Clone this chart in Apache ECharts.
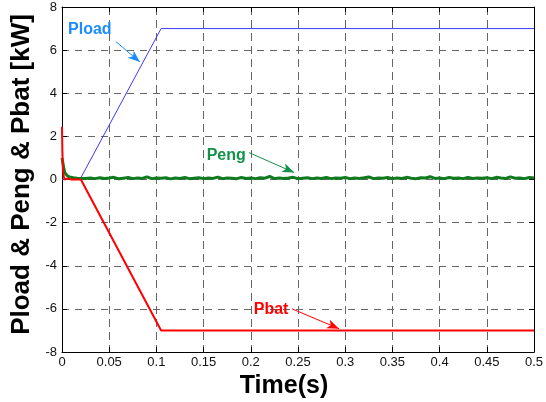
<!DOCTYPE html>
<html>
<head>
<meta charset="utf-8">
<script src="https://cdn.jsdelivr.net/npm/echarts@6/dist/echarts.min.js"></script>
<style>
  html, body { margin: 0; padding: 0; background: #fff; }
  #chart { width: 546px; height: 402px; }
</style>
</head>
<body>
<div id="chart"></div>
<script>
// Load power: zero until the step, linear ramp, then constant [kW]
const loadTime = [0, 0.019, 0.105, 0.5];
const loadPower = [0, 0, 7, 7];

// Battery power: start-up spike, ramp down to -7 kW, then constant
const batTime = [0, 0.0004, 0.001, 0.002, 0.003, 0.006, 0.01, 0.02, 0.105, 0.5];
const batPower = [2.45, 1.3, 0.45, 0.1, 0.0, 0.05, 0.0, 0.0, -7, -7];

// Engine power: start-up transient, then a noisy level slightly above zero
const engStartTime = [0, 0.001, 0.002, 0.003, 0.005, 0.008, 0.012, 0.016, 0.02];
const engStartPower = [1.0, 0.75, 0.5, 0.32, 0.2, 0.12, 0.08, 0.06, 0.05];
const engStep = 0.005;            // sampling step of the steady part
const engSteadyStart = 0.025;
const engSteadyPower = [
  0.05,0.07,0.04,0.08,0.05,0.07,0.10,0.03,0.06,0.09,
  0.04,0.07,0.05,0.12,0.04,0.07,0.06,0.08,0.03,0.07,
  0.05,0.09,0.04,0.06,0.08,0.04,0.07,0.05,0.11,0.04,
  0.07,0.06,0.04,0.09,0.05,0.07,0.04,0.08,0.06,0.14,
  0.04,0.07,0.05,0.07,0.10,0.04,0.06,0.08,0.04,0.07,
  0.05,0.10,0.04,0.07,0.06,0.09,0.04,0.07,0.05,0.08,
  0.12,0.04,0.07,0.06,0.09,0.04,0.07,0.05,0.10,0.06,
  0.04,0.08,0.07,0.13,0.05,0.07,0.04,0.09,0.06,0.07,
  0.04,0.10,0.05,0.07,0.06,0.08,0.04,0.10,0.07,0.05,
  0.12,0.06,0.07,0.04,0.09,0.07
];

// Annotation text positions and arrow ends, in data units [time, kW]
const labelPload = { text: 'Pload', at: [0.0295, 6.95], from: [0.057, 6.4], to: [0.0825, 5.45] };
const labelPeng  = { text: 'Peng',  at: [0.174, 1.1],  from: [0.198, 1.25], to: [0.246, 0.32] };
const labelPbat  = { text: 'Pbat',  at: [0.2215, -6.05], from: [0.2437, -6.0], to: [0.2935, -6.92] };

const FONT = "'Liberation Sans', Arial, Helvetica, sans-serif";

function pairs(ts, vs) { return ts.map((t, i) => [t, vs[i]]); }

const engData = pairs(engStartTime, engStartPower).concat(
  engSteadyPower.map((v, i) => [+(engSteadyStart + i * engStep).toFixed(4), v])
);

function annotate(lbl, textColor, arrowColor) {
  return {
    markLine: {
      silent: true,
      animation: false,
      symbol: ['none', 'arrow'],
      symbolSize: [7, 12],
      label: { show: false },
      lineStyle: { color: arrowColor, width: 1, type: 'solid' },
      data: [[{ coord: lbl.from }, { coord: lbl.to }]]
    },
    markPoint: {
      silent: true,
      animation: false,
      symbol: 'rect',
      symbolSize: [1, 1],
      itemStyle: { color: 'rgba(0,0,0,0)' },
      label: {
        show: true, position: 'inside', formatter: lbl.text,
        color: textColor, fontFamily: FONT, fontWeight: 'bold', fontSize: 16
      },
      data: [{ coord: lbl.at }]
    }
  };
}

const tickFmt = v => String(+v.toFixed(2));
const gridLine = (dash) => ({ show: true, lineStyle: { color: '#666', width: 1, type: dash } });
const frameLine = { show: true, onZero: false, lineStyle: { color: '#000', width: 1 } };
const inTick = { show: true, inside: true, length: 5, lineStyle: { color: '#000' } };

const chart = echarts.init(document.getElementById('chart'), null, { renderer: 'canvas' });
chart.setOption({
  animation: false,
  backgroundColor: '#fff',
  grid: { left: 62, right: 12, top: 7, bottom: 50, containLabel: false, outerBoundsMode: 'none' },
  xAxis: [{
    type: 'value', min: 0, max: 0.5, interval: 0.05,
    name: 'Time(s)', nameLocation: 'middle', nameGap: 19,
    nameTextStyle: { fontFamily: FONT, fontWeight: 'bold', fontSize: 25, color: '#000', padding: [0, 28, 0, 0] },
    axisLine: frameLine,
    axisTick: inTick,
    axisLabel: { fontFamily: FONT, fontSize: 13, color: '#111', margin: 4, formatter: tickFmt },
    splitLine: gridLine([8, 5])
  }, {
    type: 'value', min: 0, max: 0.5, interval: 0.05, position: 'top',
    axisLine: frameLine, axisTick: inTick,
    axisLabel: { show: false }, splitLine: { show: false }
  }],
  yAxis: [{
    type: 'value', min: -8, max: 8, interval: 2,
    name: 'Pload & Peng & Pbat [kW]', nameLocation: 'middle', nameGap: 25,
    nameTextStyle: { fontFamily: FONT, fontWeight: 'bold', fontSize: 26, color: '#000', padding: [0, 0, 0, 10] },
    axisLine: frameLine,
    axisTick: inTick,
    axisLabel: { fontFamily: FONT, fontSize: 13, color: '#111', margin: 5 },
    splitLine: gridLine([7, 6])
  }, {
    type: 'value', min: -8, max: 8, interval: 2, position: 'right',
    axisLine: frameLine, axisTick: inTick,
    axisLabel: { show: false }, splitLine: { show: false }
  }],
  series: [
    Object.assign({
      name: 'Pload', type: 'line', showSymbol: false, symbol: 'none',
      xAxisIndex: 0, yAxisIndex: 0,
      lineStyle: { color: '#3a3aff', width: 1 },
      data: pairs(loadTime, loadPower)
    }, annotate(labelPload, '#1a8cff', '#1a8cff')),
    Object.assign({
      name: 'Peng', type: 'line', showSymbol: false, symbol: 'none',
      xAxisIndex: 0, yAxisIndex: 0,
      lineStyle: { color: '#0f7a1e', width: 3 },
      data: engData
    }, annotate(labelPeng, '#12914a', '#12914a')),
    Object.assign({
      name: 'Pbat', type: 'line', showSymbol: false, symbol: 'none',
      xAxisIndex: 0, yAxisIndex: 0,
      lineStyle: { color: '#ff0000', width: 2 },
      data: pairs(batTime, batPower)
    }, annotate(labelPbat, '#ff0000', '#ff0000'))
  ]
});
</script>
</body>
</html>
